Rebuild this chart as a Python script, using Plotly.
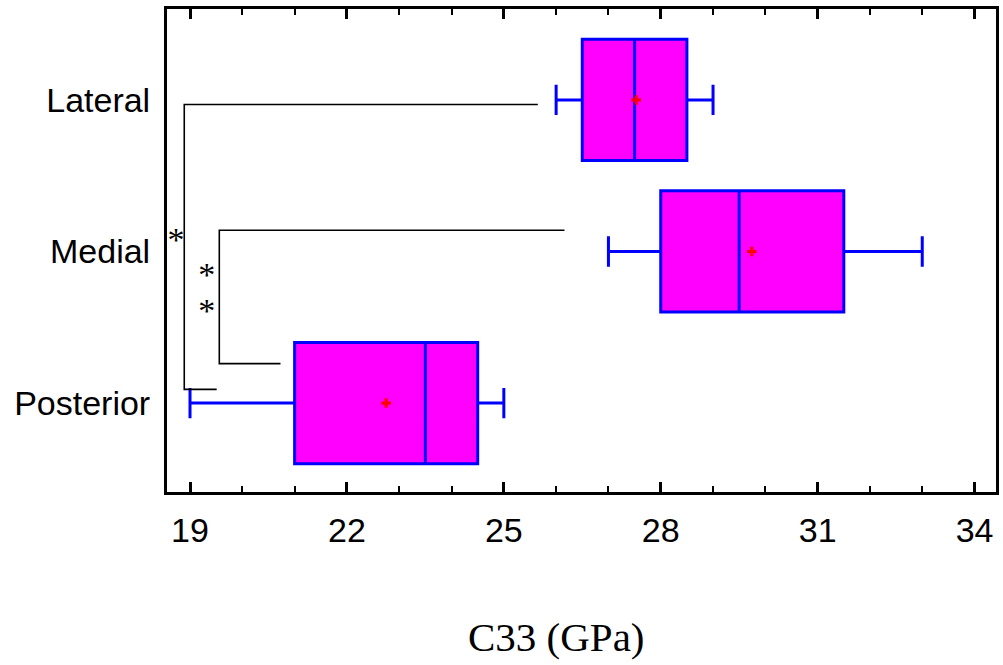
import plotly.graph_objects as go

# ---- data ----
groups = ["Posterior", "Medial", "Lateral"]
group_pos = [0, 1, 2]
lower_whisker = [19.0, 27.0, 26.0]
q1 = [21.0, 28.0, 26.5]
median = [23.5, 29.5, 27.5]
q3 = [24.5, 31.5, 28.5]
upper_whisker = [25.0, 33.0, 29.0]
means = [22.75, 29.74, 27.53]

x_ticks = [19, 22, 25, 28, 31, 34]

# significance brackets (x of vertical, x end top, x end bottom, y top, y bottom)
bracket_xv = [18.89, 19.56]
bracket_x_top_end = [25.65, 26.16]
bracket_x_bot_end = [19.51, 20.73]
bracket_y_top = [1.97, 1.14]
bracket_y_bot = [0.09, 0.26]
star_x = [18.73, 19.32, 19.32]
star_y = [1.06, 0.83, 0.59]

fig = go.Figure()

for i, g in enumerate(groups):
    fig.add_trace(go.Box(
        y=[group_pos[i]], orientation="h",
        q1=[q1[i]], median=[median[i]], q3=[q3[i]],
        lowerfence=[lower_whisker[i]], upperfence=[upper_whisker[i]],
        width=0.8, whiskerwidth=0.25,
        fillcolor="#FF00FF", line=dict(color="#0000FF", width=3),
        boxpoints=False, showlegend=False, name=g, hoverinfo="x",
    ))

fig.add_trace(go.Scatter(
    x=means, y=group_pos, mode="markers",
    marker=dict(symbol="cross", size=8, color="red", line=dict(width=0)),
    showlegend=False,
))

for k in range(len(bracket_xv)):
    fig.add_trace(go.Scatter(
        x=[bracket_x_top_end[k], bracket_xv[k], bracket_xv[k], bracket_x_bot_end[k]],
        y=[bracket_y_top[k], bracket_y_top[k], bracket_y_bot[k], bracket_y_bot[k]],
        mode="lines", line=dict(color="black", width=1.6),
        showlegend=False, hoverinfo="skip",
    ))

fig.add_trace(go.Scatter(
    x=star_x, y=star_y, mode="text", text=["*"] * len(star_x),
    textfont=dict(family="Liberation Serif", size=34, color="black"),
    textposition="middle center", showlegend=False, hoverinfo="skip",
))

fig.update_layout(
    width=1003, height=665,
    margin=dict(l=167, r=4, t=9, b=173),
    paper_bgcolor="white", plot_bgcolor="white",
    font=dict(family="Liberation Sans", size=34, color="black"),
    annotations=[dict(
        text="C33 (GPa)", x=0.47, y=-0.30, xref="paper", yref="paper",
        xanchor="center", yanchor="middle", showarrow=False,
        font=dict(family="Liberation Serif", size=41, color="black"),
    )],
)

fig.update_xaxes(
    range=[18.56, 34.41], tickvals=x_ticks, ticktext=[str(t) for t in x_ticks],
    ticks="inside", ticklen=10, tickwidth=3, tickcolor="black",
    minor=dict(ticks="inside", ticklen=6, tickwidth=2, tickcolor="black", dtick=1, tick0=19),
    showline=True, linecolor="black", linewidth=3, mirror="allticks",
    showgrid=False, zeroline=False, ticklabelstandoff=6,
)
fig.update_yaxes(
    range=[-0.587, 2.6], tickvals=group_pos, ticktext=groups,
    ticks="", showline=True, linecolor="black", linewidth=3, mirror=True,
    showgrid=False, zeroline=False, ticklabelstandoff=7,
)

fig.write_html("out.html", config={"displayModeBar": False},
               post_script="document.body.style.margin='0';")
